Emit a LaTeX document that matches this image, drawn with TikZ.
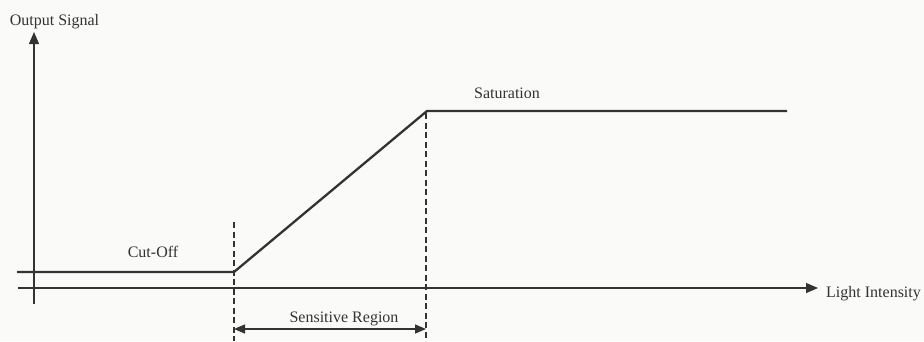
\documentclass[tikz,border=0pt]{standalone}
\usepackage{fontspec}
\setmainfont{Liberation Serif}
\usetikzlibrary{arrows.meta}
\definecolor{ink}{HTML}{333333}
\definecolor{paper}{HTML}{FAFAF8}
\begin{document}
\begin{tikzpicture}[x=1pt,y=-1pt,
  axis/.style={draw=ink,line width=1.3pt},
  curve/.style={draw=ink,line width=2.3pt},
  guide/.style={draw=ink,line width=1.5pt,dash pattern=on 6pt off 3.5pt},
  lbl/.style={text=ink,font=\fontsize{16}{19}\selectfont,inner sep=0pt,anchor=base},
  tip/.style={-{Triangle[length=12pt,width=10pt]}}]
  \fill[paper] (0,0) rectangle (924,341);
  \useasboundingbox (0,0) rectangle (924,341);
  % axes
  \coordinate (yb) at (34,304);
  \coordinate (yt) at (34,32);
  \coordinate (xl) at (18,288);
  \coordinate (xr) at (818,288);
  \draw[axis,tip] (yb) -- (yt);
  \draw[axis,tip] (xl) -- (xr);
  \node[lbl] (ylab) at (54.5,25) {Output Signal};
  \node[lbl,anchor=base west] (xlab) at (826,297) {Light Intensity};
  % response curve
  \coordinate (c0) at (17,272);
  \coordinate (c1) at (234,272);
  \coordinate (c2) at (427,111);
  \coordinate (c3) at (787,111);
  \draw[curve] (c0) -- (c1) -- (c2) -- (c3);
  \node[lbl] (cut) at (153,257) {Cut-Off};
  \node[lbl] (sat) at (507,98) {Saturation};
  % region boundaries
  \coordinate (g1t) at (234,222);
  \coordinate (g1b) at (234,341);
  \coordinate (g2t) at (426,113);
  \coordinate (g2b) at (426,341);
  \draw[guide] (g1t) -- (g1b);
  \draw[guide] (g2t) -- (g2b);
  \coordinate (d1) at (234,329);
  \coordinate (d2) at (426,329);
  \draw[draw=ink,line width=1.3pt,{Triangle[length=11pt,width=9pt]}-{Triangle[length=11pt,width=9pt]}] (d1) -- (d2);
  \node[lbl] (sens) at (344,322) {Sensitive Region};
\end{tikzpicture}
\end{document}
